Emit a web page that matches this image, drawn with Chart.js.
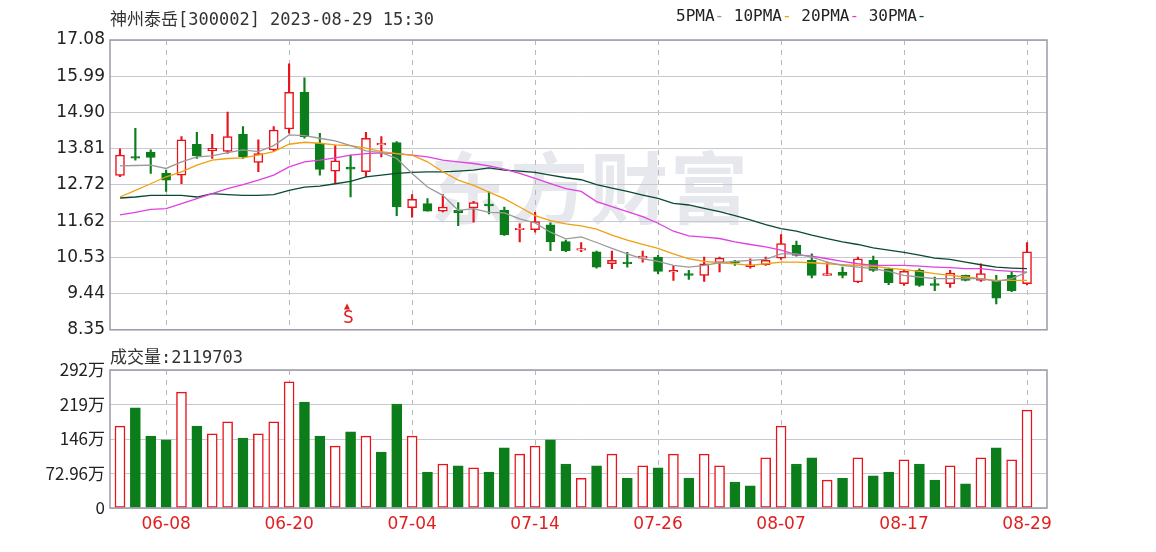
<!DOCTYPE html>
<html><head><meta charset="utf-8">
<script src="https://cdn.jsdelivr.net/npm/chart.js@4/dist/chart.umd.min.js"></script>
<style>
body{margin:0;background:#fff;width:1156px;height:552px;overflow:hidden;position:relative;font-family:"DejaVu Sans Mono","Noto Sans CJK SC",monospace;}
canvas{position:absolute;left:0}
.t{position:absolute;white-space:nowrap;color:#222;font-size:17px}
</style></head><body>
<div class="t" style="left:430px;top:128px;font-size:78px;font-weight:bold;color:#e6e8ee;font-family:'Noto Sans CJK SC';letter-spacing:2px">东方财富</div>
<canvas id="pc" width="1156" height="345" style="top:0"></canvas>
<canvas id="vc" width="1156" height="207" style="top:345px"></canvas>
<div class="t" style="left:110px;top:5px;font-family:'DejaVu Sans Mono','Noto Sans CJK SC';color:#333">神州泰岳[300002] 2023-08-29 15:30</div>
<div class="t" style="left:676px;top:6px;font-size:16px">5PMA<span style="color:#999">-</span>  10PMA<span style="color:#f0a000">-</span>  20PMA<span style="color:#e040e0">-</span>  30PMA<span style="color:#0a5030">-</span></div>
<div class="t" style="left:110px;top:343px;font-family:'DejaVu Sans Mono','Noto Sans CJK SC';color:#333">成交量:2119703</div>
<div class="t" style="left:344px;top:300px;color:#e02020;font-size:10px">▲</div>
<div class="t" style="left:343px;top:306px;color:#e02020;font-size:18px">S</div>
<script>
const dates=["06-05","06-06","06-07","06-08","06-09","06-12","06-13","06-14","06-15","06-16","06-19","06-20","06-21","06-26","06-27","06-28","06-29","06-30","07-03","07-04","07-05","07-06","07-07","07-10","07-11","07-12","07-13","07-14","07-17","07-18","07-19","07-20","07-21","07-24","07-25","07-26","07-27","07-28","07-31","08-01","08-02","08-03","08-04","08-07","08-08","08-09","08-10","08-11","08-14","08-15","08-16","08-17","08-18","08-21","08-22","08-23","08-24","08-25","08-28","08-29"];
const openP=[13.00,13.57,13.70,13.06,13.01,13.94,13.74,13.72,14.24,13.39,13.77,14.40,15.50,13.97,13.13,13.25,13.11,13.92,13.99,12.03,12.15,11.92,11.95,12.02,12.14,11.95,11.37,11.37,11.51,11.01,10.75,10.70,10.34,10.39,10.51,10.54,10.09,10.04,9.99,10.37,10.42,10.25,10.31,10.51,10.90,10.44,9.99,10.09,9.79,10.44,10.19,9.74,10.14,9.74,9.74,9.99,9.84,9.84,9.99,9.74];
const closeP=[13.61,13.52,13.54,12.86,14.07,13.59,13.82,14.17,13.56,13.66,14.37,15.50,14.17,13.18,13.44,13.19,14.12,13.97,12.05,12.28,11.92,12.05,11.87,12.18,12.08,11.21,11.41,11.61,11.00,10.73,10.80,10.24,10.44,10.34,10.57,10.11,10.14,9.99,10.34,10.51,10.37,10.31,10.44,10.95,10.59,9.99,10.04,9.99,10.49,10.14,9.77,10.11,9.69,9.69,10.06,9.84,10.04,9.30,9.53,10.70];
const highP=[13.80,14.42,13.77,13.16,14.17,14.30,14.24,14.91,14.47,14.07,14.47,16.36,15.94,14.27,13.90,13.61,14.30,14.17,14.02,12.42,12.30,12.42,12.18,12.22,12.50,12.05,11.54,11.89,11.57,11.05,10.98,10.72,10.72,10.68,10.72,10.59,10.29,10.14,10.54,10.54,10.44,10.49,10.54,11.22,11.02,10.64,10.39,10.24,10.54,10.57,10.21,10.17,10.19,9.94,10.14,10.00,10.34,9.99,10.09,10.98];
const lowP=[12.96,13.46,13.06,12.52,12.75,13.51,13.51,13.66,13.51,13.11,13.72,14.27,14.12,13.01,12.78,12.35,12.96,13.56,11.79,11.74,11.92,11.90,11.49,11.59,11.84,11.19,11.00,11.29,10.73,10.70,10.70,10.21,10.19,10.24,10.39,10.04,9.84,9.87,9.81,10.09,10.29,10.21,10.29,10.47,10.57,9.91,9.99,9.91,9.77,10.11,9.71,9.69,9.66,9.53,9.63,9.82,9.81,9.13,9.50,9.70];
const ma5=[13.29,13.30,13.31,13.21,13.41,13.56,13.59,13.69,13.77,13.72,13.90,14.22,14.20,14.12,14.04,13.90,13.74,13.69,13.51,13.06,12.65,12.40,11.95,12.00,11.89,11.87,11.69,11.57,11.29,11.09,11.15,10.98,10.80,10.64,10.49,10.41,10.29,10.24,10.29,10.37,10.41,10.44,10.47,10.64,10.64,10.54,10.39,10.29,10.24,10.19,10.11,9.99,9.94,9.89,9.89,9.89,9.89,9.81,9.89,10.09];
const ma10=[12.35,12.55,12.75,12.96,13.11,13.31,13.46,13.51,13.53,13.61,13.72,13.94,14.00,13.97,13.92,13.90,13.82,13.72,13.66,13.61,13.41,13.11,12.86,12.70,12.50,12.30,12.05,11.79,11.64,11.54,11.48,11.38,11.20,11.05,10.92,10.80,10.64,10.49,10.41,10.37,10.34,10.29,10.34,10.39,10.39,10.37,10.34,10.31,10.29,10.26,10.21,10.16,10.11,10.04,9.99,9.94,9.89,9.84,9.84,9.84];
const ma20=[11.81,11.89,11.98,12.00,12.15,12.30,12.45,12.60,12.72,12.86,13.01,13.26,13.41,13.46,13.53,13.61,13.66,13.68,13.66,13.61,13.56,13.46,13.41,13.36,13.29,13.19,13.06,12.91,12.75,12.60,12.52,12.21,12.06,11.91,11.76,11.56,11.32,11.18,11.14,11.10,11.00,10.92,10.85,10.75,10.61,10.57,10.49,10.41,10.34,10.29,10.29,10.29,10.27,10.24,10.22,10.19,10.19,10.14,10.11,10.09];
const ma30=[12.32,12.35,12.40,12.40,12.40,12.35,12.45,12.42,12.40,12.40,12.42,12.55,12.65,12.68,12.75,12.82,12.96,13.01,13.06,13.09,13.11,13.11,13.13,13.16,13.23,13.16,13.13,13.09,13.01,12.93,12.87,12.72,12.62,12.52,12.41,12.31,12.16,12.11,12.01,11.91,11.79,11.66,11.52,11.40,11.32,11.20,11.10,11.00,10.92,10.82,10.75,10.68,10.60,10.51,10.47,10.39,10.31,10.24,10.21,10.19];
const volume=[173,212,152,144,245,173,157,182,148,157,182,267,224,152,131,161,152,118,220,152,76,93,89,85,76,127,114,131,144,93,63,89,114,63,89,85,114,63,114,89,55,47,106,173,93,106,59,63,106,68,76,102,93,59,89,51,106,127,102,207];
const volUp=[1,0,0,0,1,0,1,1,0,1,1,1,0,0,1,0,1,0,0,1,0,1,0,1,0,0,1,1,0,0,1,0,1,0,1,0,1,0,1,1,0,0,1,1,0,0,1,0,1,0,0,1,0,0,1,0,1,0,1,1];
const priceTicks=["8.35","9.44","10.53","11.62","12.72","13.81","14.90","15.99","17.08"];
const volTicks=["0","72.96万","146万","219万","292万"];
const volTickVals=[0,72.96,145.92,218.88,291.84];
const labelIdx=[4,12,20,28,36,44,52,60];

const RED='#e8141c',GREEN='#0b7d1a';
const idx=dates.map((d,i)=>i+1);
const boxPlugin={id:'box',afterDraw(c){const a=c.chartArea,x=c.ctx;x.save();x.strokeStyle='#9a9aa8';x.lineWidth=1.5;x.strokeRect(a.left,a.top,a.right-a.left,a.bottom-a.top);x.restore();}};
function xScale(showLabels){return{type:'linear',min:0.35,max:61.3,bounds:'data',offset:false,
  afterBuildTicks(s){s.ticks=labelIdx.map(v=>({value:v}));},
  afterFit(s){s.height=showLabels?44:0;},
  ticks:{display:showLabels,autoSkip:false,color:'#e02020',font:{size:17,family:'DejaVu Sans'},padding:6,callback:v=>dates[v-1]},
  grid:{color:'#b8b8b8',offset:false,tickLength:0,drawTicks:false},border:{display:false,dash:[5,5]}};}
const up=i=>closeP[i]>=openP[i];
const pc=new Chart(document.getElementById('pc'),{
 data:{datasets:[
  {type:'line',data:idx.map((x,i)=>({x,y:ma5[i]})),borderColor:'#9a9a9a',borderWidth:1.3,pointRadius:0,order:1},
  {type:'line',data:idx.map((x,i)=>({x,y:ma10[i]})),borderColor:'#f0a010',borderWidth:1.3,pointRadius:0,order:1},
  {type:'line',data:idx.map((x,i)=>({x,y:ma20[i]})),borderColor:'#e040e0',borderWidth:1.3,pointRadius:0,order:1},
  {type:'line',data:idx.map((x,i)=>({x,y:ma30[i]})),borderColor:'#0a4a30',borderWidth:1.3,pointRadius:0,order:1},
  {type:'bar',grouped:false,data:idx.map((x,i)=>({x,y:[lowP[i],highP[i]]})),backgroundColor:idx.map((x,i)=>up(i)?RED:GREEN),barThickness:1.5,order:3},
  {type:'bar',grouped:false,data:idx.map((x,i)=>({x,y:[openP[i],Math.abs(closeP[i]-openP[i])<0.04?openP[i]+(up(i)?0.04:-0.04):closeP[i]]})),
   backgroundColor:idx.map((x,i)=>up(i)?'#fff':GREEN),borderColor:idx.map((x,i)=>up(i)?RED:GREEN),borderWidth:1.5,borderSkipped:false,barThickness:9,order:2}
 ]},
 options:{responsive:false,animation:false,events:[],layout:{padding:{top:40,right:109,bottom:15,left:0}},
  plugins:{legend:{display:false},tooltip:{enabled:false}},
  scales:{x:xScale(false),
   y:{min:8.35,max:17.08,bounds:'data',afterBuildTicks(s){s.ticks=priceTicks.map(v=>({value:parseFloat(v)}));},
    afterFit(s){s.width=110;},ticks:{autoSkip:false,color:'#222',font:{size:17,family:'DejaVu Sans'},padding:5,callback:(v,i)=>priceTicks[i]},
    grid:{color:'#c8c8d0',drawTicks:false},border:{display:false}}}},
 plugins:[boxPlugin]});
const vc=new Chart(document.getElementById('vc'),{
 data:{datasets:[{type:'bar',data:idx.map((x,i)=>({x,y:volume[i]})),backgroundColor:idx.map((x,i)=>volUp[i]?'#fff':GREEN),
   borderColor:idx.map((x,i)=>volUp[i]?RED:GREEN),borderWidth:1.5,borderSkipped:false,barThickness:10}]},
 options:{responsive:false,animation:false,events:[],layout:{padding:{top:25,right:109,bottom:0,left:0}},
  plugins:{legend:{display:false},tooltip:{enabled:false}},
  scales:{x:xScale(true),
   y:{min:0,max:291.84,bounds:'data',afterBuildTicks(s){s.ticks=volTickVals.map(v=>({value:v}));},
    afterFit(s){s.width=110;},ticks:{autoSkip:false,color:'#222',font:{size:17,family:'Noto Sans CJK SC'},padding:5,callback:(v,i)=>volTicks[i]},
    grid:{color:'#c8c8d0',drawTicks:false},border:{display:false}}}},
 plugins:[boxPlugin]});
</script></body></html>
